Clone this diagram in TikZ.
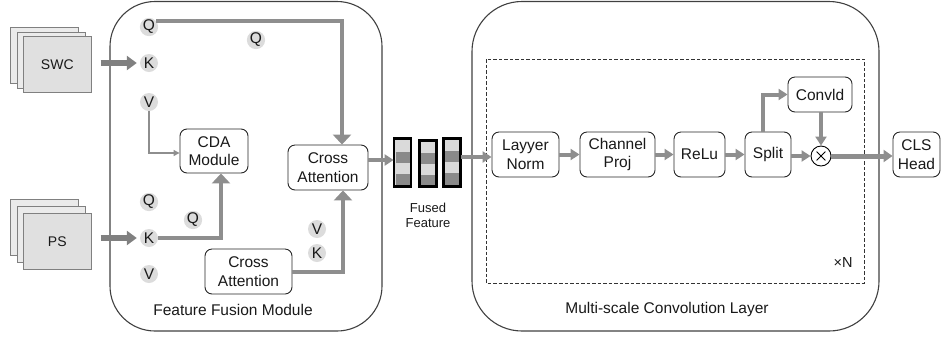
\documentclass[tikz,border=0pt]{standalone}
\usepackage{fontspec}
\setmainfont{Liberation Sans}
\usetikzlibrary{arrows.meta,calc}
\definecolor{arrgray}{HTML}{8E8E8E}
\definecolor{circgray}{HTML}{DCDCDC}
\definecolor{stackback}{HTML}{EBEBEB}
\definecolor{stackfront}{HTML}{E0E0E0}
\definecolor{barlight}{HTML}{DADADA}
\definecolor{bardark}{HTML}{8A8A8A}
\begin{document}
\begin{tikzpicture}[x=1pt,y=-1pt,
  every node/.style={font=\fontsize{15.5}{18.5}\selectfont, text=black!90},
  blk/.style={draw=black!85, line width=0.9pt, rounded corners=7pt, fill=white, align=center, inner sep=0pt},
  qkv/.style={circle, fill=circgray, inner sep=0pt, minimum size=18pt, font=\fontsize{15.5}{17}\selectfont},
  bigbox/.style={draw=black!75, line width=1.1pt},
  stk/.style={draw=black!50, line width=0.6pt, minimum width=68pt, minimum height=56pt, inner sep=0pt, anchor=north west},
  garr/.style={draw=arrgray, line width=4pt, -{Triangle[width=18pt,length=10pt]}},
  rarr/.style={draw=arrgray, line width=4pt, -{Triangle[width=11pt,length=9pt]}},
  inarr/.style={draw=arrgray!90!black, line width=6pt, -{Triangle[width=14pt,length=10pt]}},
  thinarr/.style={draw=arrgray, line width=1.2pt, -{Triangle[width=6pt,length=6pt]}},
  fbar/.style={draw=black, line width=1.8pt, fill=barlight, minimum width=16pt, inner sep=0pt},
]
\useasboundingbox (0,0) rectangle (941,341);

% big containers
\draw[bigbox, rounded corners=45pt] (110,1.5) rectangle (382,331);
\draw[bigbox, rounded corners=50pt] (472,1.5) rectangle (879,331);
\draw[black!80, line width=0.9pt, dash pattern=on 3.5pt off 2pt] (486,59) rectangle (864,283);

\node (ffm) at (233,310) {Feature Fusion Module};
\node (mscl) at (667,309) {Multi-scale Convolution Layer};
\node[font=\fontsize{14.5}{16}\selectfont] (xn) at (843,263) {×N};

% input stacks
\node[stk, fill=stackback] (swcb) at (10,27) {};
\node[stk, fill=stackback] (swcm) at (16.5,31.5) {};
\node[stk, fill=stackfront, font=\fontsize{14}{16}\selectfont] (swcf) at (23,36) {SWC};
\node[stk, fill=stackback] (psb) at (10,199) {};
\node[stk, fill=stackback] (psm) at (16.5,206) {};
\node[stk, fill=stackfront, font=\fontsize{14}{16}\selectfont] (psf) at (23,213) {PS};

% QKV circles
\node[qkv] (q1) at (149,27) {Q};
\node[qkv] (k1) at (149,63) {K};
\node[qkv] (v1) at (149,102) {V};
\node[qkv] (q2) at (149,202) {Q};
\node[qkv] (k2) at (149,238) {K};
\node[qkv] (v2) at (149,274) {V};
\node[qkv] (lq1) at (256,40) {Q};
\node[qkv] (lq2) at (193,220) {Q};
\node[qkv] (lv) at (317,229) {V};
\node[qkv] (lk) at (317,253) {K};

% blocks in fusion module
\node[blk, minimum width=68pt, minimum height=44pt] (cda) at (214,151) {CDA\\Module};
\node[blk, minimum width=80pt, minimum height=45pt] (ca1) at (328,167.5) {Cross\\Attention};
\node[blk, minimum width=87pt, minimum height=45pt] (ca2) at (248.5,271.5) {Cross\\Attention};

% fused feature bars
\node[fbar, minimum height=47pt] (bar1) at (402.5,162.5) {};
\node[fbar, minimum height=45pt] (bar2) at (428,163.5) {};
\node[fbar, minimum height=47pt] (bar3) at (452,162.5) {};
\fill[bardark] (395.5,152) rectangle (409.5,163);
\fill[bardark] (395.5,174) rectangle (409.5,185);
\fill[bardark] (421,153) rectangle (435,164);
\fill[bardark] (421,175) rectangle (435,185);
\fill[bardark] (445,151) rectangle (459,162);
\fill[bardark] (445,173) rectangle (459,185);
\draw[black, line width=1.8pt] (bar1.north west) rectangle (bar1.south east);
\draw[black, line width=1.8pt] (bar2.north west) rectangle (bar2.south east);
\draw[black, line width=1.8pt] (bar3.north west) rectangle (bar3.south east);
\node[font=\fontsize{13}{15}\selectfont, align=center] (ff) at (428,215.5) {Fused\\Feature};

% multi-scale blocks
\node[blk, minimum width=67pt, minimum height=45pt] (ln) at (525.5,154.5) {Layyer\\Norm};
\node[blk, minimum width=75pt, minimum height=45pt] (cp) at (617.5,154.5) {Channel\\Proj};
\node[blk, minimum width=51pt, minimum height=45pt] (relu) at (699.5,154.5) {ReLu};
\node[blk, minimum width=46pt, minimum height=45pt] (split) at (768,154.5) {Split};
\node[blk, minimum width=64pt, minimum height=35pt] (conv) at (820,94.5) {Convld};
\node[circle, draw=black, line width=0.9pt, fill=white, minimum size=20pt, inner sep=0pt] (ot) at (821,156) {};
\draw[line width=0.8pt] ($(ot.center)!0.6!(ot.45)$) -- ($(ot.center)!0.6!(ot.225)$);
\draw[line width=0.8pt] ($(ot.center)!0.6!(ot.135)$) -- ($(ot.center)!0.6!(ot.315)$);
\node[blk, minimum width=47pt, minimum height=45pt] (cls) at (916.5,154.5) {CLS\\Head};

% connectors: inputs
\draw[inarr, shorten <=9pt, shorten >=3pt] (swcf.east |- k1) -- (k1.west);
\draw[inarr, shorten <=9pt, shorten >=3pt] (psf.east |- k2) -- (k2.west);

% fusion module connectors
\draw[garr] (q1.40) -| ([xshift=14pt]ca1.north);
\draw[thinarr] (v1.south) |- ([yshift=-2pt]cda.west);
\draw[garr] (k2.east) -| ([xshift=7pt]cda.south);
\draw[garr] (ca2.east) -| ([xshift=15pt]ca1.south);
\draw[rarr] (ca1.east |- 0,160) -- (bar1.west |- 0,160);
\draw[rarr] (bar3.east |- 0,157) -- (ln.west |- 0,157);

% multi-scale connectors
\draw[rarr] (ln.east) -- (cp.west);
\draw[rarr] (cp.east) -- (relu.west);
\draw[rarr] (relu.east) -- (split.west);
\draw[rarr] (split.east |- ot) -- (ot.west);
\draw[rarr] ([xshift=-5pt]split.north) |- (conv.west);
\draw[rarr] (conv.south -| ot) -- (ot.north);
\draw[draw=arrgray, line width=5pt, -{Triangle[width=12pt,length=9pt]}] (ot.east) -- (cls.west |- ot);
\end{tikzpicture}
\end{document}
